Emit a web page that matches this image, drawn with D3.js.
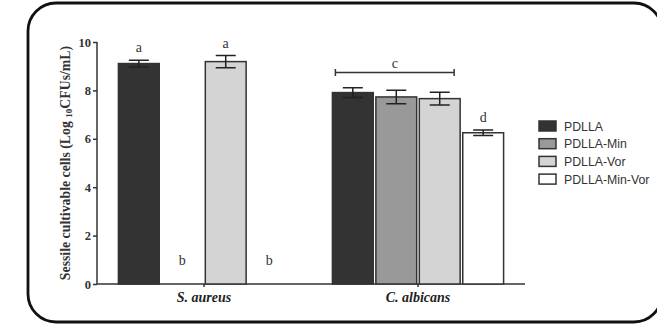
<!DOCTYPE html>
<html><head><meta charset="utf-8">
<script src="https://cdn.jsdelivr.net/npm/d3@7"></script>
<style>body{margin:0;background:#fff}svg{display:block}</style>
</head><body>
<script>
const categories = ["S. aureus", "C. albicans"];
const series = ["PDLLA", "PDLLA-Min", "PDLLA-Vor", "PDLLA-Min-Vor"];
const seriesColors = ["#333333", "#999999", "#d4d4d4", "#ffffff"];
const saureusValues = [9.11, 0, 9.19, 0];
const saureusErrors = [0.14, 0, 0.25, 0];
const calbicansValues = [7.91, 7.73, 7.66, 6.25];
const calbicansErrors = [0.20, 0.28, 0.26, 0.11];
const saureusLetters = ["a", "b", "a", "b"];
const calbicansLetters = ["", "", "", "d"];
const bracketLabel = "c";
const yTicks = [0, 2, 4, 6, 8, 10];

const W = 657, H = 325;
const svg = d3.select("body").append("svg").attr("width", W).attr("height", H);

// frame
svg.append("rect").attr("x", 28).attr("y", 3).attr("width", 634).attr("height", 319)
  .attr("rx", 28).attr("ry", 28).attr("fill", "none").attr("stroke", "#111").attr("stroke-width", 2.8);

const x0 = d3.scaleBand().domain(categories).range([97, 525]).paddingInner(0.2).paddingOuter(0.1);
const x1 = d3.scaleBand().domain(series).range([0, x0.bandwidth()]).paddingInner(0.06);
const y = d3.scaleLinear().domain([0, 10]).range([284, 42]);
const color = d3.scaleOrdinal().domain(series).range(seriesColors);

const data = [
  {cat: categories[0], values: saureusValues, errors: saureusErrors, letters: saureusLetters},
  {cat: categories[1], values: calbicansValues, errors: calbicansErrors, letters: calbicansLetters}
];

const serif = "'Liberation Serif','Times New Roman',serif";

// axes
const yAxis = svg.append("g").attr("transform", "translate(97,0)")
  .call(d3.axisLeft(y).tickValues(yTicks).tickSize(4).tickPadding(2));
yAxis.select(".domain").attr("stroke", "#333").attr("stroke-width", 1.5).attr("d", `M0,${y(10)}V${y(0)}`);
yAxis.selectAll(".tick line").attr("stroke", "#333").attr("stroke-width", 1.5);
yAxis.selectAll(".tick text").attr("font-family", serif).attr("font-weight", "bold")
  .attr("font-size", 12.5).attr("fill", "#333");

const xAxis = svg.append("g").attr("transform", "translate(0,284)")
  .call(d3.axisBottom(x0).tickSize(3).tickPadding(5));
xAxis.select(".domain").attr("stroke", "#333").attr("stroke-width", 1.5).attr("d", "M97,0H525");
xAxis.selectAll(".tick line").attr("stroke", "#333").attr("stroke-width", 1.5);
xAxis.selectAll(".tick text").attr("font-family", serif).attr("font-weight", "bold")
  .attr("font-style", "italic").attr("font-size", 14).attr("fill", "#222");

// bars
data.forEach(g => {
  const gx = x0(g.cat);
  series.forEach((s, i) => {
    const v = g.values[i], e = g.errors[i];
    const bx = gx + x1(s), bw = x1.bandwidth();
    if (v > 0) {
      svg.append("rect").attr("x", bx).attr("y", y(v)).attr("width", bw).attr("height", y(0) - y(v))
        .attr("fill", color(s)).attr("stroke", "#333").attr("stroke-width", 1.5);
      const cx = bx + bw / 2;
      svg.append("path").attr("d", `M${cx},${y(v + e)}V${y(v - e)}M${cx - 10},${y(v + e)}H${cx + 10}M${cx - 10},${y(v - e)}H${cx + 10}`)
        .attr("stroke", "#222").attr("stroke-width", 1.5).attr("fill", "none");
    }
    const lab = g.letters[i];
    if (lab) {
      const ly = v > 0 ? y(v + e) - 8 : 265;
      svg.append("text").attr("x", bx + bw / 2).attr("y", ly).attr("text-anchor", "middle")
        .attr("font-family", serif).attr("font-size", 14).attr("fill", "#333").text(lab);
    }
  });
});

// bracket c
{
  const gx = x0(categories[1]);
  const xa = gx + x1(series[0]) + 3, xb = gx + x1(series[2]) + x1.bandwidth() - 6;
  const by = 72.5;
  svg.append("path").attr("d", `M${xa},${by}H${xb}M${xa},${by - 3.5}V${by + 3.5}M${xb},${by - 3.5}V${by + 3.5}`)
    .attr("stroke", "#333").attr("stroke-width", 1.5).attr("fill", "none");
  svg.append("text").attr("x", (xa + xb) / 2).attr("y", by - 5).attr("text-anchor", "middle")
    .attr("font-family", serif).attr("font-size", 14).attr("fill", "#333").text(bracketLabel);
}

// y label
const yl = svg.append("text").attr("transform", `translate(70,${(y(0) + y(10)) / 2}) rotate(-90)`)
  .attr("text-anchor", "middle").attr("font-family", serif).attr("font-weight", "bold")
  .attr("font-size", 13.8).attr("fill", "#333");
yl.append("tspan").text("Sessile cultivable cells (Log ");
yl.append("tspan").attr("font-size", 9).attr("dy", 2).text("10");
yl.append("tspan").attr("dy", -2).text("CFUs/mL)");

// legend
const lg = svg.append("g").attr("transform", "translate(539,126)");
series.forEach((s, i) => {
  const row = lg.append("g").attr("transform", `translate(0,${i * 17.7})`);
  row.append("rect").attr("x", 0).attr("y", -5).attr("width", 17).attr("height", 10)
    .attr("fill", color(s)).attr("stroke", "#333").attr("stroke-width", 1.5);
  row.append("text").attr("x", 25).attr("y", 4.5).attr("font-family", "'Liberation Sans',Arial,sans-serif")
    .attr("font-size", 12.3).attr("fill", "#333").text(s);
});
</script>
</body></html>
